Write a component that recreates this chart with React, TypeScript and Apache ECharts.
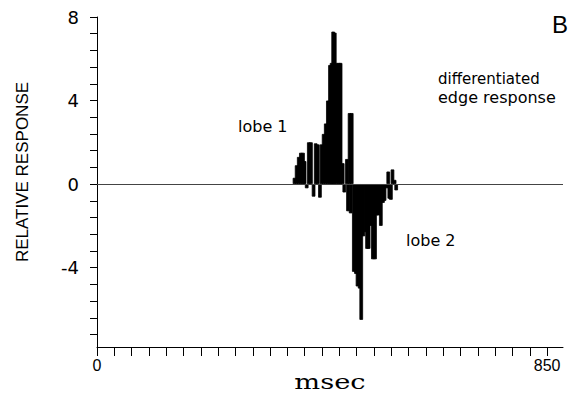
import React, { useEffect, useRef } from "react";
import * as echarts from "echarts";

// time (msec) of each response sample
const responseTimes = [
  373, 377, 381, 385, 389, 392, 396, 400, 404, 409, 413, 417, 421, 424, 428,
  432, 436, 440, 443, 446, 449, 453, 457, 460, 464, 467, 472, 474, 477, 479,
  481, 485, 489, 492, 496, 499, 503, 507, 510, 513, 517, 521, 525, 528, 532,
  536, 540, 543, 547, 550, 552, 555, 558, 562, 565,
];
// relative response at each sample
const responseValues = [
  0.3, 0.9, 1.3, 1.5, 1.5, 1.1, -0.2, 2.0, 2.0, -0.6, 1.95, 1.9, -0.65, 1.9, 2.4,
  2.9, 4.0, 5.7, 5.8, 7.3, 7.25, 5.8, 5.8, 5.8, 1.0, -0.4, 1.2, -1.3, 3.4, -1.4,
  3.4, -4.2, -4.3, -4.9, -5.0, -6.5, -2.5, -2.3, -3.1, -3.1, -2.0, -3.6, -3.6, -1.5, -1.5,
  -2.0, -0.9, -0.8, -0.2, 0.6, -0.7, -0.75, 0.7, 0.2, -0.3,
];

const yTickValues = [8, 7.2, 6.4, 5.6, 4.8, 4, 3.2, 2.4, 1.6, 0.8, 0, -0.8, -1.6, -2.4, -3.2, -4, -4.8, -5.6, -6.4, -7.2];
const yLabelValues = [8, 4, 0, -4];
const xLabelValues = [0, 850];
const xTickCount = 26;
const xTickValues = Array.from({ length: xTickCount + 1 }, (_, k) => (k * 850) / xTickCount);

export default function App() {
  const ref = useRef<HTMLDivElement>(null);
  useEffect(() => {
    if (!ref.current) return;
    const chart = echarts.init(ref.current, null, { renderer: "svg" });
    const data = responseTimes.map((t, i) => [t, responseValues[i]]);
    chart.setOption({
      animation: false,
      backgroundColor: "#fff",
      grid: { left: 97, right: 7, top: 17, bottom: 54, containLabel: false },
      xAxis: {
        type: "value",
        min: 0,
        max: 880,
        splitLine: { show: false },
        axisLine: { show: true, onZero: false, lineStyle: { color: "#000", width: 1 } },
        axisTick: { show: true, inside: false, length: 9, customValues: xTickValues, lineStyle: { color: "#000" } },
        axisLabel: {
          customValues: xLabelValues,
          margin: 10,
          color: "#000",
          fontFamily: "Liberation Sans",
          fontSize: 16,
        },
      },
      yAxis: {
        type: "value",
        min: -7.8,
        max: 8,
        splitLine: { show: false },
        axisLine: { show: true, onZero: false, lineStyle: { color: "#000", width: 1 } },
        axisTick: { show: true, inside: false, length: 7, customValues: yTickValues, lineStyle: { color: "#000" } },
        axisLabel: {
          customValues: yLabelValues,
          margin: 18,
          color: "#000",
          fontFamily: "DejaVu Sans",
          fontSize: 18,
        },
      },
      series: [
        {
          type: "bar",
          data,
          barWidth: 3.6,
          barMinWidth: 3.6,
          itemStyle: { color: "#000", borderColor: "#000", borderWidth: 0.8 },
          markLine: {
            silent: true,
            symbol: ["none", "none"],
            label: { show: false },
            lineStyle: { color: "#444", width: 1, type: "solid" },
            data: [{ yAxis: 0 }],
          },
        },
      ],
      graphic: [
        {
          type: "text",
          x: 560,
          y: 24,
          style: { text: "B", fill: "#000", fontFamily: "Liberation Sans", fontSize: 24, align: "center", verticalAlign: "middle" },
        },
        {
          type: "text",
          x: 438,
          y: 79,
          style: { text: "differentiated", fill: "#000", fontFamily: "DejaVu Sans", fontSize: 15, align: "left", verticalAlign: "middle" },
        },
        {
          type: "text",
          x: 438,
          y: 97,
          style: { text: "edge response", fill: "#000", fontFamily: "DejaVu Sans", fontSize: 16, align: "left", verticalAlign: "middle" },
        },
        {
          type: "text",
          x: 238,
          y: 126,
          style: { text: "lobe 1", fill: "#000", fontFamily: "DejaVu Sans", fontSize: 16, align: "left", verticalAlign: "middle" },
        },
        {
          type: "text",
          x: 406,
          y: 240,
          style: { text: "lobe 2", fill: "#000", fontFamily: "DejaVu Sans", fontSize: 16, align: "left", verticalAlign: "middle" },
        },
        {
          type: "text",
          x: 22,
          y: 172,
          rotation: Math.PI / 2,
          style: { text: "RELATIVE RESPONSE", fill: "#000", fontFamily: "Liberation Sans", fontSize: 17, align: "center", verticalAlign: "middle" },
        },
        {
          type: "text",
          x: 330,
          y: 382,
          scaleX: 1.3,
          style: { text: "msec", fill: "#000", fontFamily: "DejaVu Serif", fontSize: 21, align: "center", verticalAlign: "middle" },
        },
      ],
    });
    return () => chart.dispose();
  }, []);
  return <div ref={ref} style={{ position: "fixed", left: 0, top: 0, width: 570, height: 401 }} />;
}
